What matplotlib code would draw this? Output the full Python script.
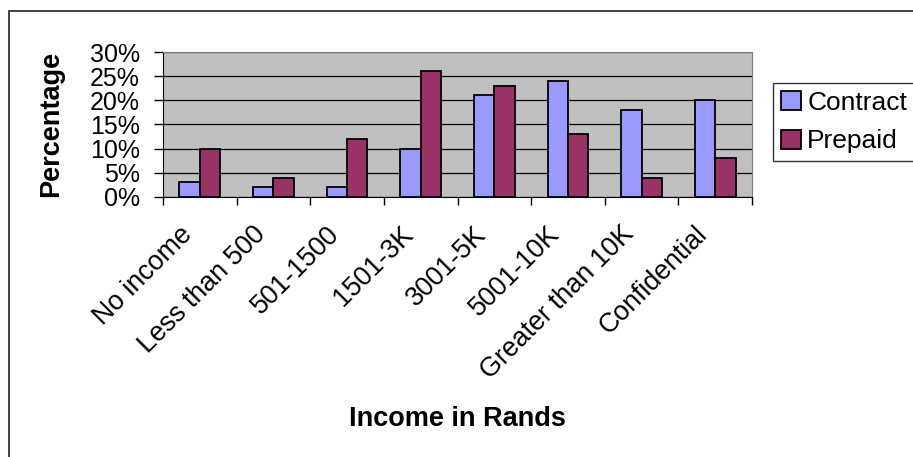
import matplotlib.pyplot as plt
import matplotlib.transforms as mtransforms
from matplotlib.patches import Rectangle, Patch
from matplotlib.ticker import FixedLocator, PercentFormatter
import numpy as np

plt.rcParams['font.family'] = ['Liberation Sans', 'DejaVu Sans']

categories = ['No income', 'Less than 500', '501-1500', '1501-3K',
              '3001-5K', '5001-10K', 'Greater than 10K', 'Confidential']
contract = [3, 2, 2, 10, 21, 24, 18, 20]
prepaid = [10, 4, 12, 26, 23, 13, 4, 8]

fig = plt.figure(figsize=(9.13, 4.57), dpi=100)
ax = fig.add_axes([163 / 913, 1 - 197 / 457, (752 - 163) / 913, (197 - 52) / 457])
ax.set_facecolor('#C0C0C0')

# outer chart border (runs off the right and bottom edges)
fig.patches.append(Rectangle((8.5 / 913, -0.1), 1.2, 1 - 10.5 / 457 + 0.1,
                             transform=fig.transFigure, fill=False,
                             edgecolor='#202020', linewidth=1.2))

x = np.arange(len(categories))
w = 0.277
ax.bar(x - w / 2, contract, w, color='#9999FF', edgecolor='black', linewidth=1.3,
       label='Contract', zorder=3)
ax.bar(x + w / 2, prepaid, w, color='#993366', edgecolor='black', linewidth=1.3,
       label='Prepaid', zorder=3)

ax.set_xlim(-0.5, len(categories) - 0.5)
ax.set_ylim(0, 30)
ax.set_yticks(range(0, 31, 5))
ax.yaxis.set_major_formatter(PercentFormatter(decimals=0))
ax.yaxis.grid(True, color='black', linewidth=0.9, zorder=1)
ax.set_axisbelow(True)

ax.set_xticks(x)
ax.set_xticklabels(categories, rotation=45, ha='right', rotation_mode='anchor',
                   fontsize=19.3)
ax.xaxis.set_minor_locator(FixedLocator(np.arange(-0.5, len(categories), 1)))
ax.tick_params(axis='x', which='major', length=0, pad=17.5)
ax.tick_params(axis='x', which='minor', length=6, width=1, direction='out')
ax.tick_params(axis='y', length=6.5, width=1, pad=10, labelsize=18)
offset = mtransforms.ScaledTranslation(-21 / 100, 0, fig.dpi_scale_trans)
for lbl in ax.get_xticklabels():
    lbl.set_transform(lbl.get_transform() + offset)

for side in ['top', 'right']:
    ax.spines[side].set_color('#808080')
for side in ['left', 'bottom']:
    ax.spines[side].set_color('black')

fig.text(457 / 913, 1 - 419 / 457, 'Income in Rands', ha='center', va='center',
         fontsize=19.5, fontweight='bold')
fig.text(51 / 913, 1 - 124 / 457, 'Percentage', ha='center', va='center',
         rotation=90, fontsize=19.5, fontweight='bold')

handles = [Patch(facecolor='#9999FF', edgecolor='black', linewidth=1.3),
           Patch(facecolor='#993366', edgecolor='black', linewidth=1.3)]
leg = fig.legend(handles, ['Contract', 'Prepaid'], loc='upper left',
                 bbox_to_anchor=(773 / 913, 1 - 83 / 457), fontsize=19,
                 frameon=True, fancybox=False, shadow=False,
                 handlelength=0.75, handleheight=0.75, handletextpad=0.25,
                 borderpad=0.3, labelspacing=0.55, borderaxespad=0)
leg.get_frame().set_edgecolor('black')
leg.get_frame().set_linewidth(1)

fig.savefig('out.png', dpi=100)
